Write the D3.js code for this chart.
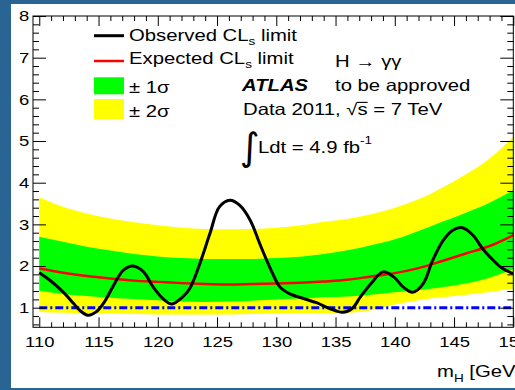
<!DOCTYPE html>
<html>
<head>
<meta charset="utf-8">
<script src="https://cdn.jsdelivr.net/npm/d3@7"></script>
<style>
body { margin: 0; overflow: hidden; }
svg text { font-family: "Liberation Sans", Arial, Helvetica, sans-serif; fill: #000; }
</style>
</head>
<body>
<div id="chart"></div>
<script>
// size of the picture
var width = 515
var height = 390

// Higgs mass grid (GeV) for expected limit and bands
var massGrid = [110, 112, 114, 116, 118, 120, 122, 124, 126, 128, 130, 132, 134, 136, 138, 140, 142, 144, 146, 148, 150]
var expected = [1.94, 1.84, 1.76, 1.70, 1.65, 1.62, 1.59, 1.57, 1.56, 1.57, 1.58, 1.60, 1.63, 1.67, 1.75, 1.83, 1.95, 2.12, 2.30, 2.48, 2.74]
var plus1 = [2.70, 2.58, 2.46, 2.37, 2.29, 2.23, 2.19, 2.17, 2.17, 2.17, 2.19, 2.22, 2.29, 2.38, 2.50, 2.64, 2.84, 3.06, 3.28, 3.52, 3.82]
var minus1 = [1.41, 1.33, 1.28, 1.24, 1.21, 1.18, 1.15, 1.14, 1.15, 1.17, 1.20, 1.22, 1.25, 1.27, 1.31, 1.37, 1.42, 1.49, 1.58, 1.72, 1.92]
var plus2 = [3.65, 3.42, 3.26, 3.14, 3.05, 2.98, 2.92, 2.89, 2.88, 2.89, 2.92, 2.97, 3.06, 3.13, 3.24, 3.40, 3.60, 3.88, 4.20, 4.58, 5.10]
var minus2 = [0.90, 0.88, 0.87, 0.86, 0.85, 0.84, 0.84, 0.84, 0.84, 0.85, 0.86, 0.87, 0.87, 0.88, 0.94, 1.08, 1.18, 1.25, 1.31, 1.38, 1.46]

// observed limit
var obsMass = [110.0, 110.9, 112.0, 112.9, 113.4, 114.1, 114.8, 115.5, 116.2, 117.1, 117.9, 118.8, 119.6, 120.5, 121.2, 122.1, 122.7, 123.5, 124.4, 125.2, 126.1, 126.9, 127.8, 128.6, 129.5, 130.3, 131.1, 132.3, 133.4, 134.5, 135.6, 136.4, 137.1, 138.0, 139.0, 139.9, 140.7, 141.5, 142.4, 143.2, 144.1, 144.9, 145.7, 146.6, 147.4, 148.3, 149.1, 150.0]
var obsLimit = [1.84, 1.66, 1.38, 1.10, 0.94, 0.82, 0.90, 1.14, 1.50, 1.90, 2.00, 1.86, 1.50, 1.20, 1.09, 1.26, 1.46, 2.02, 2.78, 3.42, 3.58, 3.46, 3.10, 2.54, 1.94, 1.50, 1.34, 1.22, 1.12, 0.98, 0.89, 0.98, 1.26, 1.58, 1.86, 1.74, 1.50, 1.37, 1.58, 2.14, 2.62, 2.86, 2.92, 2.74, 2.42, 2.14, 1.94, 1.82]

// tick labels
var xMajor = [110, 115, 120, 125, 130, 135, 140, 145, 150]
var yMajor = [1, 2, 3, 4, 5, 6, 7, 8]

// frame of the plot in pixels
var frame = {left: 33, right: 513.3, top: 16, bottom: 327.3}
// the screenshot text is wider than plain Helvetica
var stretch = 1.23

var svg = d3.select("#chart")
    .append("svg")
    .attr("width", width)
    .attr("height", height)

// blue slide background and the white canvas on it
svg.append("rect").attr("width", width).attr("height", height).attr("fill", "#2a6492")
svg.append("rect").attr("x", 11).attr("y", 4).attr("width", width - 11).attr("height", 384).attr("fill", "#fff")

var x = d3.scaleLinear().domain([109.47, 150]).range([frame.left, frame.right])
var y = d3.scaleLinear().domain([0.53, 8]).range([frame.bottom, frame.top])

svg.append("clipPath").attr("id", "clip")
  .append("rect")
    .attr("x", frame.left).attr("y", frame.top)
    .attr("width", frame.right - frame.left).attr("height", frame.bottom - frame.top)

var plot = svg.append("g").attr("clip-path", "url(#clip)")

// bands
function band(lo, hi) {
  return d3.area()
    .x(function(d) { return x(d) })
    .y0(function(d, i) { return y(lo[i]) })
    .y1(function(d, i) { return y(hi[i]) })
    .curve(d3.curveMonotoneX)
}
plot.append("path").datum(massGrid).attr("d", band(minus2, plus2)).attr("fill", "#ffff00")
plot.append("path").datum(massGrid).attr("d", band(minus1, plus1)).attr("fill", "#00ff00")

// line at CLs limit = 1
plot.append("path")
  .datum([110, 150])
  .attr("d", d3.line().x(function(d) { return x(d) }).y(function() { return y(1) }))
  .attr("stroke", "#0000ff")
  .attr("stroke-width", 3)
  .attr("stroke-dasharray", "8,3,2,3")
  .attr("fill", "none")

// expected
plot.append("path")
  .datum(massGrid)
  .attr("d", d3.line().x(function(d) { return x(d) }).y(function(d, i) { return y(expected[i]) }).curve(d3.curveMonotoneX))
  .attr("stroke", "#ff0000")
  .attr("stroke-width", 2.5)
  .attr("fill", "none")

// observed
plot.append("path")
  .datum(obsMass)
  .attr("d", d3.line().x(function(d) { return x(d) }).y(function(d, i) { return y(obsLimit[i]) }).curve(d3.curveCatmullRom))
  .attr("stroke", "#000")
  .attr("stroke-width", 3)
  .attr("stroke-linejoin", "round")
  .attr("fill", "none")

// axes, ticks pointing inwards
var minorX = d3.range(110, 151).filter(function(v) { return v % 5 != 0 })
var minorY = d3.range(3, 40).map(function(k) { return k / 5 }).filter(function(v) { return v % 1 != 0 })

function axis(gen, pos, values, size, labels) {
  var g = svg.append("g")
    .attr("transform", pos)
    .call(gen.tickValues(values).tickSize(size).tickSizeOuter(0))
    .attr("font-family", null)
    .attr("font-size", null)
  g.select(".domain").remove()
  g.selectAll("line").attr("stroke", "#000").attr("stroke-width", 1)
  if (!labels) g.selectAll("text").remove()
  else g.selectAll("text").attr("font-size", "15px").attr("transform", "scale(" + stretch + ",1)")
  return g
}
axis(d3.axisBottom(x).tickPadding(9), "translate(0," + frame.bottom + ")", xMajor, -10, true)
axis(d3.axisBottom(x), "translate(0," + frame.bottom + ")", minorX, -5, false)
axis(d3.axisTop(x), "translate(0," + frame.top + ")", xMajor, -10, false)
axis(d3.axisTop(x), "translate(0," + frame.top + ")", minorX, -5, false)
axis(d3.axisLeft(y).tickPadding(3), "translate(" + frame.left + ",0)", yMajor, -13, true)
axis(d3.axisLeft(y), "translate(" + frame.left + ",0)", minorY, -6, false)
axis(d3.axisRight(y), "translate(" + frame.right + ",0)", yMajor, -13, false)
axis(d3.axisRight(y), "translate(" + frame.right + ",0)", minorY, -6, false)

svg.append("rect")
  .attr("x", frame.left).attr("y", frame.top)
  .attr("width", frame.right - frame.left).attr("height", frame.bottom - frame.top)
  .attr("fill", "none").attr("stroke", "#000").attr("stroke-width", 1)

// text helper: a stretched group holding one text
function label(x0, y0, size) {
  var g = svg.append("g").attr("transform", "translate(" + x0 + "," + y0 + ") scale(" + stretch + ",1)")
  var t = g.append("text").attr("font-size", size + "px")
  return t
}

// axis title
var xt = label(437, 377, 16.5)
xt.append("tspan").text("m")
xt.append("tspan").attr("font-size", "11px").attr("dy", 5).text("H")
xt.append("tspan").attr("dy", -5).text(" [GeV]")

// legend
svg.append("line").attr("x1", 94).attr("x2", 124).attr("y1", 35.7).attr("y2", 35.7).attr("stroke", "#000").attr("stroke-width", 3)
svg.append("line").attr("x1", 94).attr("x2", 124).attr("y1", 61).attr("y2", 61).attr("stroke", "#ff0000").attr("stroke-width", 2.5)
svg.append("rect").attr("x", 94).attr("y", 77.3).attr("width", 30).attr("height", 17).attr("fill", "#00ff00")
svg.append("rect").attr("x", 94).attr("y", 99).attr("width", 30).attr("height", 20).attr("fill", "#ffff00")

var l1 = label(129, 40.7, 16.5)
l1.append("tspan").text("Observed CL")
l1.append("tspan").attr("font-size", "11px").attr("dy", 4).text("s")
l1.append("tspan").attr("dy", -4).text(" limit")
var l2 = label(129, 63.5, 16.5)
l2.append("tspan").text("Expected CL")
l2.append("tspan").attr("font-size", "11px").attr("dy", 4).text("s")
l2.append("tspan").attr("dy", -4).text(" limit")
label(129, 93, 16.5).text("\u00b1 1\u03c3")
label(129, 117, 16.5).text("\u00b1 2\u03c3")

// labels on the right
label(335, 66.7, 16.5).text("H \u2192 \u03b3\u03b3")
label(242, 90.7, 16.5).attr("font-weight", "bold").attr("font-style", "italic").text("ATLAS")
label(335, 90.7, 16.5).text("to be approved")

var dt = label(243, 115, 16.5)
dt.text("Data 2011, \u221as = 7 TeV")
var node = dt.node()
var r0 = node.getExtentOfChar(11)
var r1 = node.getExtentOfChar(12)
d3.select(node.parentNode).append("line")
  .attr("x1", r0.x + r0.width - 0.5).attr("x2", r1.x + r1.width)
  .attr("y1", -12.6).attr("y2", -12.6)
  .attr("stroke", "#000").attr("stroke-width", 1.1)

svg.append("text")
  .attr("x", 240).attr("y", 160)
  .attr("font-size", "38px")
  .style("font-family", "DejaVu Sans")
  .text("\u222b")
var lt = label(258, 153, 16.5)
lt.append("tspan").text("Ldt = 4.9 fb")
lt.append("tspan").attr("font-size", "11px").attr("dy", -9).text("-1")
</script>
</body>
</html>
